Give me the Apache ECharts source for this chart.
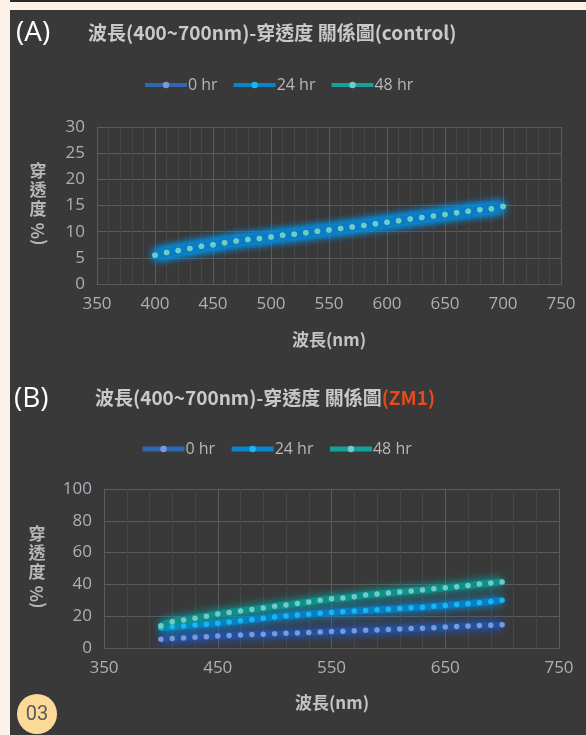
<!DOCTYPE html>
<html>
<head>
<meta charset="utf-8">
<script src="https://cdn.jsdelivr.net/npm/echarts@6/dist/echarts.min.js"></script>
<style>
  html, body { margin: 0; padding: 0; background: #fdf1e8; }
  #main { width: 586px; height: 735px; }
</style>
</head>
<body>
<div id="main"></div>
<script>
// wavelengths (nm)
const wavelengths = [400, 410, 420, 430, 440, 450, 460, 470, 480, 490, 500, 510, 520, 530, 540, 550,
  560, 570, 580, 590, 600, 610, 620, 630, 640, 650, 660, 670, 680, 690, 700]
const seriesNames = ['0 hr', '24 hr', '48 hr']

// (A) control - the three curves lie on top of each other
const control0 = [5.5, 6.0, 6.4, 6.8, 7.2, 7.5, 7.9, 8.2, 8.5, 8.7, 9.0, 9.3, 9.5, 9.8, 10.1, 10.3,
  10.6, 10.9, 11.2, 11.5, 11.8, 12.1, 12.4, 12.7, 13.0, 13.3, 13.6, 13.9, 14.2, 14.4, 14.8]
const control24 = [5.5, 6.0, 6.4, 6.8, 7.2, 7.5, 7.9, 8.2, 8.5, 8.7, 9.0, 9.3, 9.5, 9.8, 10.1, 10.3,
  10.6, 10.9, 11.2, 11.5, 11.8, 12.1, 12.4, 12.7, 13.0, 13.3, 13.6, 13.9, 14.2, 14.4, 14.8]
const control48 = [5.5, 6.0, 6.4, 6.8, 7.2, 7.5, 7.9, 8.2, 8.5, 8.7, 9.0, 9.3, 9.5, 9.8, 10.1, 10.3,
  10.6, 10.9, 11.2, 11.5, 11.8, 12.1, 12.4, 12.7, 13.0, 13.3, 13.6, 13.9, 14.2, 14.4, 14.8]

// (B) ZM1
const zm0 = [5.5, 5.9, 6.3, 6.7, 7.1, 7.6, 7.9, 8.2, 8.5, 8.7, 8.9, 9.2, 9.5, 9.8, 10.0, 10.3,
  10.6, 10.9, 11.1, 11.3, 11.6, 11.9, 12.2, 12.5, 12.8, 13.2, 13.5, 13.8, 14.1, 14.3, 14.7]
const zm24 = [12.8, 13.3, 13.9, 14.5, 15.0, 15.6, 16.4, 17.1, 17.9, 18.7, 19.5, 20.1, 20.7, 21.3, 21.9, 22.4,
  22.8, 23.2, 23.6, 24.0, 24.4, 24.8, 25.3, 25.7, 26.2, 26.7, 27.3, 27.9, 28.5, 29.2, 30.0]
const zm48 = [14.0, 16.5, 17.6, 18.7, 20.0, 21.4, 22.3, 23.3, 24.2, 25.2, 26.2, 27.1, 28.0, 28.9, 30.0, 31.0,
  31.5, 32.3, 33.3, 34.0, 34.6, 35.2, 35.8, 36.5, 37.2, 37.9, 38.6, 39.3, 40.2, 40.9, 41.5]

const lineColors = ['#23519c', '#0a7cc2', '#0f8f8c']
const glowColors = ['rgba(30,90,210,1)', 'rgba(0,150,240,1)', 'rgba(0,170,175,1)']
const dotColors = ['#7b98d8', '#1ab6f0', '#70cbc2']
const legendColors = ['#2e67b0', '#0a84cc', '#14a19c']

const pairs = vals => wavelengths.map((w, i) => [w, vals[i]])

const mkSeries = (name, vals, idx, gridIdx, width, glowIdx) => ({
  name: name,
  type: 'line',
  xAxisIndex: gridIdx,
  yAxisIndex: gridIdx,
  data: pairs(vals),
  symbol: 'circle',
  symbolSize: 5.5,
  showSymbol: true,
  lineStyle: {
    width: width,
    color: lineColors[glowIdx],
    shadowBlur: 10,
    shadowColor: glowColors[glowIdx]
  },
  itemStyle: { color: dotColors[idx] },
  emphasis: { disabled: true }
})

const legendItems = w => seriesNames.map((n, i) => ({
  name: n,
  lineStyle: { color: legendColors[i], width: w, shadowBlur: 0 },
  itemStyle: { color: dotColors[i] }
}))

const tickLabel = { color: '#a9b0b6', fontSize: 17, fontFamily: 'Open Sans', margin: 12 }
const majorLine = { lineStyle: { color: '#5b5b5b', width: 1 } }
const minorLine = { lineStyle: { color: '#474747', width: 1 } }
const legendText = { color: '#b8b8b8', fontSize: 16, fontFamily: 'Open Sans', padding: [0, 0, 0, -4] }

const chart = echarts.init(document.getElementById('main'))
chart.setOption({
  animation: false,
  backgroundColor: '#fdf1e8',
  graphic: [
    { type: 'rect', shape: { x: 10, y: 0, width: 576, height: 2 }, style: { fill: '#2a2a2a' }, z: -10 },
    { type: 'rect', shape: { x: 10, y: 10, width: 576, height: 725 }, style: { fill: '#393939' }, z: -10 },
    { type: 'text', x: 16, y: 19, style: { text: '(A)', fill: '#ffffff', font: '28px "Open Sans"' } },
    { type: 'text', x: 14, y: 385, style: { text: '(B)', fill: '#ffffff', font: '28px "Open Sans"' } },
    { type: 'text', x: 88, y: 23, style: { text: '波長(400~700nm)-穿透度 關係圖(control)', fill: '#c9c9c9',
      font: 'bold 19px "Noto Sans CJK TC"' } },
    { type: 'text', x: 95, y: 388, style: { text: '{a|波長(400~700nm)-穿透度 關係圖}{b|(ZM1)}',
      rich: { a: { fill: '#c9c9c9', font: 'bold 19px "Noto Sans CJK TC"' },
              b: { fill: '#e8491d', font: 'bold 19px "Noto Sans CJK TC"' } } } },
    // y axis names
    { type: 'text', x: 38, y: 161, style: { text: '穿\n透\n度', fill: '#b8b8b8', align: 'center',
      font: 'bold 17px "Noto Sans CJK TC"', lineHeight: 19 } },
    { type: 'text', x: 38, y: 234, rotation: Math.PI / 2, style: { text: '(%', fill: '#b8b8b8',
      align: 'center', verticalAlign: 'middle', font: 'bold 17px "Noto Sans CJK TC"' } },
    { type: 'text', x: 37, y: 524, style: { text: '穿\n透\n度', fill: '#b8b8b8', align: 'center',
      font: 'bold 17px "Noto Sans CJK TC"', lineHeight: 19 } },
    { type: 'text', x: 37, y: 597, rotation: Math.PI / 2, style: { text: '(%', fill: '#b8b8b8',
      align: 'center', verticalAlign: 'middle', font: 'bold 17px "Noto Sans CJK TC"' } },
    // x axis names
    { type: 'text', x: 329, y: 340, style: { text: '波長(nm)', fill: '#c4c4c4', align: 'center',
      verticalAlign: 'middle', font: 'bold 17px "Noto Sans CJK TC"' } },
    { type: 'text', x: 332, y: 703, style: { text: '波長(nm)', fill: '#c4c4c4', align: 'center',
      verticalAlign: 'middle', font: 'bold 17px "Noto Sans CJK TC"' } },
    // page badge
    { type: 'circle', shape: { cx: 37, cy: 714, r: 20 }, style: { fill: '#fdd998' } },
    { type: 'text', x: 37, y: 715, style: { text: '03', fill: '#5a5a5a', align: 'center',
      verticalAlign: 'middle', font: '20px Roboto' } }
  ],
  legend: [
    { data: legendItems(4), left: 138, top: 72, itemWidth: 42, itemHeight: 8, itemGap: 14,
      textStyle: legendText },
    { data: legendItems(5), left: 135, top: 436, itemWidth: 42, itemHeight: 8, itemGap: 14,
      textStyle: legendText }
  ],
  grid: [
    { left: 97, top: 127, width: 464, height: 157 },
    { left: 104, top: 489, width: 455, height: 159 }
  ],
  xAxis: [
    { type: 'value', gridIndex: 0, min: 350, max: 750, interval: 50,
      axisLine: { show: true, lineStyle: { color: '#5b5b5b' } }, axisTick: { show: false },
      axisLabel: tickLabel, splitLine: majorLine,
      minorTick: { show: false, splitNumber: 5 }, minorSplitLine: Object.assign({ show: true }, minorLine) },
    { type: 'value', gridIndex: 1, min: 350, max: 750, interval: 100,
      axisLine: { show: true, lineStyle: { color: '#5b5b5b' } }, axisTick: { show: false },
      axisLabel: tickLabel, splitLine: majorLine,
      minorTick: { show: false, splitNumber: 5 }, minorSplitLine: Object.assign({ show: true }, minorLine) }
  ],
  yAxis: [
    { type: 'value', gridIndex: 0, min: 0, max: 30, interval: 5,
      axisLine: { show: true, lineStyle: { color: '#5b5b5b' } }, axisTick: { show: false },
      axisLabel: tickLabel, splitLine: majorLine },
    { type: 'value', gridIndex: 1, min: 0, max: 100, interval: 20,
      axisLine: { show: true, lineStyle: { color: '#5b5b5b' } }, axisTick: { show: false },
      axisLabel: tickLabel, splitLine: majorLine }
  ],
  series: [
    // control: all three overlap, glow reads as one blue band
    mkSeries('0 hr', control0, 0, 0, 8, 1),
    mkSeries('24 hr', control24, 1, 0, 8, 1),
    mkSeries('48 hr', control48, 2, 0, 8, 1),
    mkSeries('0 hr', zm0, 0, 1, 7, 0),
    mkSeries('24 hr', zm24, 1, 1, 7, 1),
    mkSeries('48 hr', zm48, 2, 1, 7, 2)
  ]
})
</script>
</body>
</html>
